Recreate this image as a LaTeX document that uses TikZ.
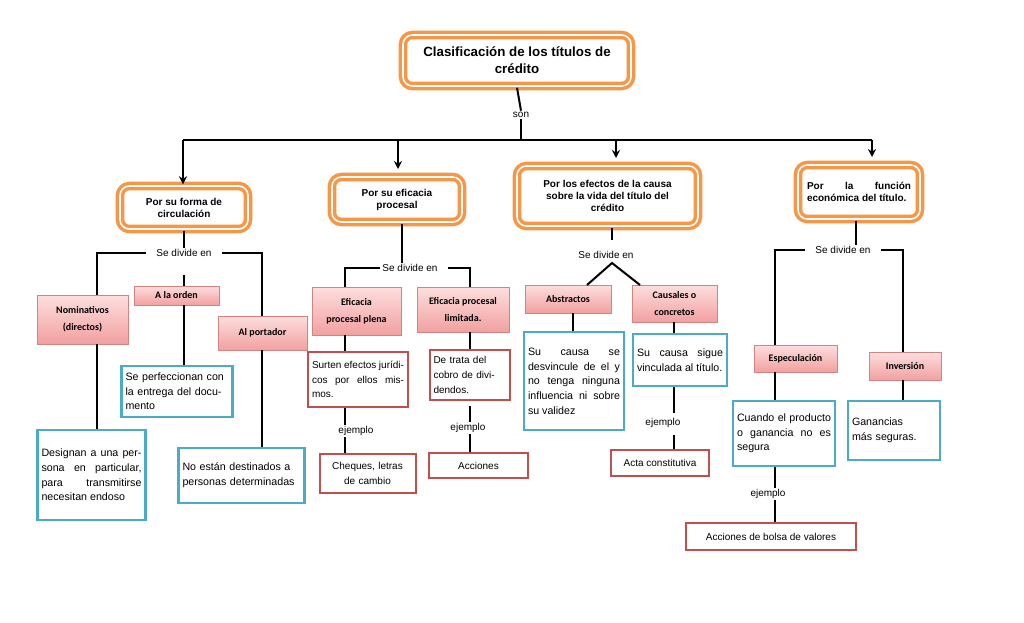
\documentclass[tikz,border=0pt]{standalone}
\usepackage{fontspec}
\setmainfont{Liberation Sans}
\newfontfamily\calib{Carlito}
\usetikzlibrary{arrows.meta,positioning}
\definecolor{cOrange}{RGB}{247,150,70}
\definecolor{cRed}{RGB}{192,80,77}
\definecolor{cCyan}{RGB}{75,172,198}
\definecolor{cPinkTop}{RGB}{253,222,222}
\definecolor{cPinkBot}{RGB}{242,160,160}
\tikzset{
  mainbox/.style={draw=cOrange, line width=2.6pt, double=white, double distance=1.2pt, rounded corners=7pt, align=center, font=\bfseries\fontsize{7.5}{9}\selectfont},
  pinkbox/.style={draw=cRed!70, line width=0.6pt, top color=cPinkTop, bottom color=cPinkBot, align=center, font=\calib\bfseries\fontsize{7.5}{13}\selectfont, inner sep=1pt},
  cyanbox/.style={draw=cCyan, line width=2pt, align=justify, font=\fontsize{8}{11}\selectfont, inner sep=3pt},
  redbox/.style={draw=cRed, line width=1.5pt, align=center, font=\fontsize{7.5}{11}\selectfont, inner sep=3pt},
  lbl/.style={font=\fontsize{7.5}{9}\selectfont, inner sep=1pt},
  link/.style={line width=1.5pt, black},
  down/.style={link, -{Stealth[length=6pt,width=6pt]}}
}
\begin{document}
\begin{tikzpicture}[x=0.75pt,y=0.75pt,yscale=-1,xscale=1]
\useasboundingbox (0,0) rectangle (1024,622);

% Titulo
\node [mainbox, font=\bfseries\fontsize{10}{13}\selectfont, minimum width=228*0.75pt, minimum height=51*0.75pt] (title) at (517,60.5) {Clasificación de los títulos de\\crédito};
\node [lbl] (son) at (521,115) {son};
\coordinate (barL) at (183,140);
\coordinate (barR) at (872,140);

% Nivel 1
\node [mainbox, minimum width=128*0.75pt, minimum height=43*0.75pt] (forma) at (184,207.5) {Por su forma de\\circulación};
\node [mainbox, minimum width=130*0.75pt, minimum height=45*0.75pt] (eficacia) at (397,199.5) {Por su eficacia\\procesal};
\node [mainbox, minimum width=181*0.75pt, minimum height=60*0.75pt] (efectos) at (607.5,196) {Por los efectos de la causa\\sobre la vida del título del\\crédito};
\node [mainbox, align=justify, text width=104*0.75pt, minimum width=122*0.75pt, minimum height=54*0.75pt] (funcion) at (859,192) {Por la función económica del título.};

\draw [link] (title.south) -- (son.north);
\draw [link] (son.south) -- (son.south |- barL) coordinate (barC);
\draw [link] (barL) -- (barR);
\draw [down] (barL) -- (forma.north -| barL);
\draw [down] (398,140) -- (398,169);
\draw [down] (616,140) -- (616,158);
\draw [down] (barR) -- (872,157);

% Por su forma de circulacion
\node [lbl, inner xsep=8pt] (divA) at (184,253) {Se divide en};
\node [pinkbox, minimum width=91*0.75pt, minimum height=49*0.75pt] (nomin) at (82.5,319.5) {Nominativos\\(directos)};
\node [pinkbox, minimum width=85*0.75pt, minimum height=19*0.75pt] (orden) at (176.5,295.5) {A la orden};
\node [pinkbox, minimum width=89*0.75pt, minimum height=34*0.75pt] (portador) at (262.5,333) {Al portador};
\node [cyanbox, text width=100*0.75pt, minimum height=90*0.75pt] (designan) at (91.5,475) {Designan a una persona en particular, para transmitirse necesitan endoso};
\node [cyanbox, text width=103*0.75pt, minimum height=51*0.75pt, align=left] (perfec) at (177,391.5) {Se perfeccionan con la entrega del documento};
\node [cyanbox, text width=118*0.75pt, minimum height=55*0.75pt, align=left] (noestan) at (241.5,475.5) {No están destinados a personas determinadas};
\draw [link] (forma.south) -- (divA.north);
\draw [link] (divA.west) -| (97,295);
\draw [link] (divA.east) -| (portador.north -| 262,0);
\draw [link] (184,275) -- (184,286);
\draw [link] (97,344) -- (designan.north -| 97,0);
\draw [link] (184,305) -- (perfec.north -| 184,0);
\draw [link] (portador.south -| 262,0) -- (noestan.north -| 262,0);

% Por su eficacia procesal
\node [lbl, inner xsep=2pt] (divB) at (410,268) {Se divide en};
\node [pinkbox, minimum width=89*0.75pt, minimum height=48*0.75pt] (plena) at (356.5,311) {Eficacia\\procesal plena};
\node [pinkbox, minimum width=92*0.75pt, minimum height=45*0.75pt] (limitada) at (463,309.5) {Eficacia procesal\\limitada.};
\node [redbox, align=justify, text width=92*0.75pt, minimum height=55*0.75pt] (surten) at (358,379.5) {Surten efectos jurídicos por ellos mismos.};
\node [lbl] (ejB1) at (356,431) {ejemplo};
\node [redbox, text width=88*0.75pt, minimum height=39*0.75pt] (cheques) at (367.5,473.5) {Cheques, letras\\de cambio};
\node [redbox, align=left, text width=72*0.75pt, minimum height=50*0.75pt] (detrata) at (469.5,375) {De trata del cobro de dividendos.};
\node [lbl] (ejB2) at (468,428) {ejemplo};
\node [redbox, minimum width=99*0.75pt, minimum height=25*0.75pt] (acciones) at (478.5,465.5) {Acciones};
\draw [link] (eficacia.south -| 402,0) -- (divB.north -| 402,0);
\draw [link] (divB.west) -| (plena.north -| 345,0);
\draw [link] (divB.east) ++(8,0) -| (limitada.north -| 470,0);
\draw [link] (plena.south -| 345,0) -- (surten.north -| 345,0);
\draw [link] (surten.south -| 345,0) -- (ejB1.north -| 345,0);
\draw [link] (ejB1.south -| 345,0) -- (cheques.north -| 345,0);
\draw [link] (limitada.south -| 470,0) -- (detrata.north -| 470,0);
\draw [link] (detrata.south -| 470,0) ++(0,5) -- (ejB2.north -| 470,0);
\draw [link] (ejB2.south -| 470,0) -- (acciones.north -| 470,0);

% Por los efectos de la causa
\node [lbl] (divC) at (606,255) {Se divide en};
\node [pinkbox, minimum width=86*0.75pt, minimum height=28*0.75pt] (abstr) at (568,299) {Abstractos};
\node [pinkbox, minimum width=85*0.75pt, minimum height=37*0.75pt] (causales) at (674.5,303.5) {Causales o\\concretos};
\node [cyanbox, text width=92*0.75pt, minimum height=98*0.75pt] (desvinc) at (574,381) {Su causa se desvincule de el y no tenga ninguna influencia ni sobre su validez};
\node [cyanbox, text width=86*0.75pt, minimum height=52*0.75pt] (vinc) at (680,360) {Su causa sigue vinculada al título.};
\node [lbl] (ejC) at (663,423) {ejemplo};
\node [redbox, minimum width=98*0.75pt, minimum height=26*0.75pt] (acta) at (660,463) {Acta constitutiva};
\draw [link] (efectos.south -| 612,0) -- (612,240);
\draw [link] (587,285) -- (612,263) -- (640,285);
\draw [link] (abstr.south -| 573,0) -- (desvinc.north -| 573,0);
\draw [link] (causales.south -| 674,0) -- (vinc.north -| 674,0);
\draw [link] (vinc.south -| 674,0) -- (674,413);
\draw [link] (674,435) -- (acta.north -| 674,0);

% Por la funcion economica
\node [lbl, inner xsep=8pt] (divD) at (843,250) {Se divide en};
\node [pinkbox, minimum width=83*0.75pt, minimum height=27*0.75pt] (especul) at (795.5,358.5) {Especulación};
\node [pinkbox, minimum width=72*0.75pt, minimum height=28*0.75pt] (inversion) at (905,366) {Inversión};
\node [cyanbox, text width=94*0.75pt, minimum height=65*0.75pt] (cuando) at (784,433.5) {Cuando el producto o ganancia no es segura};
\node [cyanbox, align=left, text width=84*0.75pt, minimum height=59*0.75pt] (ganan) at (894,430.5) {Ganancias\\más seguras.\\[10pt]};
\node [lbl] (ejD) at (768,494) {ejemplo};
\node [redbox, minimum width=170*0.75pt, minimum height=27*0.75pt] (bolsa) at (771,536.5) {Acciones de bolsa de valores};
\draw [link] (funcion.south -| 856,0) -- (divD.north -| 856,0);
\draw [link] (divD.west) -| (especul.north -| 775,0);
\draw [link] (divD.east) -| (inversion.north -| 903,0);
\draw [link] (especul.south -| 775,0) -- (cuando.north -| 775,0);
\draw [link] (inversion.south -| 903,0) -- (ganan.north -| 903,0);
\draw [link] (cuando.south -| 775,0) -- (ejD.north -| 775,0);
\draw [link] (ejD.south -| 775,0) -- (bolsa.north -| 775,0);

\end{tikzpicture}
\end{document}
